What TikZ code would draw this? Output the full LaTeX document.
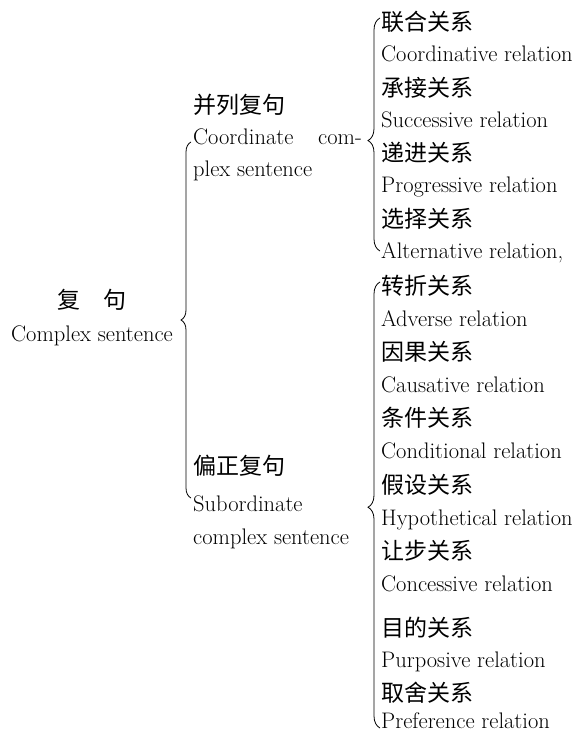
\documentclass[tikz,border=0pt]{standalone}
\usepackage{fontspec}
\newfontfamily\cjk{Noto Sans CJK SC}
\usetikzlibrary{decorations.pathreplacing}
\begin{document}
\begin{tikzpicture}[x=1pt,y=-1pt,
  en/.style={anchor=base west,inner sep=0pt,yshift=-6.5pt,font=\fontsize{22.5}{26}\selectfont},
  zh/.style={anchor=base west,inner sep=0pt,yshift=-8.5pt,font=\cjk\fontsize{23}{26}\selectfont},
  bracket/.style={decorate,decoration={brace,amplitude=#1},line width=0.8pt}]
\useasboundingbox (0,0) rectangle (580,735);
% root
\node[zh,anchor=base] (root) at (92,300) {复\hspace{1em}句};
\node[en,anchor=base] (rootE) at (92,335) {Complex sentence};
% level 1
\node[zh] (coord) at (193,105) {并列复句};
\node[en] (coordE1) at (193,138) {Coordinate\hspace{1.1em}com-};
\node[en] (coordE2) at (193,170) {plex sentence};
\node[zh] (sub) at (193,466) {偏正复句};
\node[en] (subE1) at (193,505) {Subordinate};
\node[en] (subE2) at (193,538) {complex sentence};
% coordinate relations
\node[zh] (c1) at (381,22) {联合关系};
\node[en] (c1e) at (381,55) {Coordinative relation};
\node[zh] (c2) at (381,88) {承接关系};
\node[en] (c2e) at (381,121) {Successive relation};
\node[zh] (c3) at (381,153) {递进关系};
\node[en] (c3e) at (381,186) {Progressive relation};
\node[zh] (c4) at (381,219) {选择关系};
\node[en] (c4e) at (381,252) {Alternative relation,};
% subordinate relations
\node[zh] (s1) at (381,286) {转折关系};
\node[en] (s1e) at (381,320) {Adverse relation};
\node[zh] (s2) at (381,352) {因果关系};
\node[en] (s2e) at (381,386) {Causative relation};
\node[zh] (s3) at (381,418) {条件关系};
\node[en] (s3e) at (381,452) {Conditional relation};
\node[zh] (s4) at (381,485) {假设关系};
\node[en] (s4e) at (381,519) {Hypothetical relation};
\node[zh] (s5) at (381,551) {让步关系};
\node[en] (s5e) at (381,585) {Concessive relation};
\node[zh] (s6) at (381,628) {目的关系};
\node[en] (s6e) at (381,661) {Purposive relation};
\node[zh] (s7) at (381,693) {取舍关系};
\node[en] (s7e) at (381,722) {Preference relation};
% brace end points
\coordinate (b1top) at (191,142);
\coordinate (b1bot) at (191,498);
\coordinate (b2top) at (380,18);
\coordinate (b2bot) at (380,251);
\coordinate (b3top) at (380,282);
\coordinate (b3bot) at (380,728);
\draw[bracket=10pt,decoration={aspect=0.5}] (b1bot) -- (b1top);
\draw[bracket=12pt,decoration={aspect=0.474}] (b2bot) -- (b2top);
\draw[bracket=12pt,decoration={aspect=0.495}] (b3bot) -- (b3top);
\end{tikzpicture}
\end{document}
